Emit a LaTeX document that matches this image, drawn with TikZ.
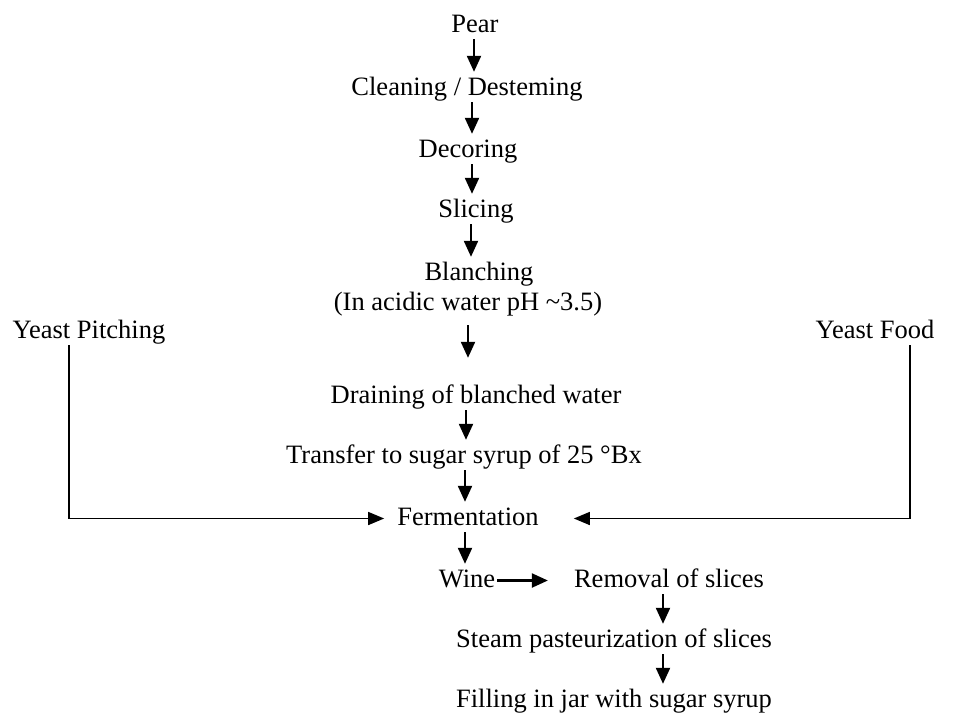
\documentclass[tikz,border=0pt]{standalone}
\usepackage{fontspec}
\setmainfont{Liberation Serif}
\usetikzlibrary{arrows.meta}
\begin{document}
\begin{tikzpicture}[x=1pt,y=-1pt,
  lbl/.style={anchor=base, inner xsep=2pt, inner ysep=2pt, text height=18pt, text depth=5pt, font=\fontsize{26.5}{30}\selectfont},
  arr/.style={line width=2.2pt, -{Triangle[length=16pt,width=14pt]}, shorten >=3pt},
  feed/.style={line width=1.6pt, -{Triangle[length=16pt,width=13pt]}}]
\useasboundingbox (0,0) rectangle (954,713);
\node[lbl] (pear) at (475,32) {Pear};
\node[lbl] (clean) at (467,95) {Cleaning / Desteming};
\node[lbl] (decor) at (468,157) {Decoring};
\node[lbl] (slice) at (476,217) {Slicing};
\node[lbl] (blanch) at (479,280) {Blanching};
\node[lbl] (acid) at (468,310) {(In acidic water pH \textasciitilde3.5)};
\node[lbl] (drain) at (476,403) {Draining of blanched water};
\node[lbl] (transfer) at (464,463) {Transfer to sugar syrup of 25 °Bx};
\node[lbl] (ferm) at (468,525) {Fermentation};
\node[lbl] (wine) at (467,587) {Wine};
\node[lbl] (removal) at (669,587) {Removal of slices};
\node[lbl] (steam) at (614,647) {Steam pasteurization of slices};
\node[lbl] (fill) at (614,707) {Filling in jar with sugar syrup};
\node[lbl] (pitch) at (89,338) {Yeast Pitching};
\node[lbl] (food) at (875,338) {Yeast Food};
\draw[arr] ([xshift=-1pt]pear.south) -- ([xshift=-1pt]pear.south |- clean.north);
\draw[arr] ([xshift=5pt]clean.south) -- ([xshift=5pt]clean.south |- decor.north);
\draw[arr] ([xshift=4pt]decor.south) -- ([xshift=4pt]decor.south |- slice.north);
\draw[arr] ([xshift=-5pt]slice.south) -- ([xshift=-5pt]slice.south |- blanch.north);
\draw[arr] ([yshift=-8pt]acid.south) -- ([yshift=22pt]acid.south |- drain.north);
\draw[arr] ([xshift=-10pt]drain.south) -- ([xshift=-10pt]drain.south |- transfer.north);
\draw[arr] ([xshift=1pt]transfer.south) -- ([xshift=1pt]transfer.south |- ferm.north);
\draw[arr] ([xshift=-3pt]ferm.south) -- ([xshift=-3pt]ferm.south |- wine.north);
\draw[arr, shorten >=24pt] (wine.east) -- (removal.west);
\draw[arr] ([xshift=-6pt]removal.south) -- ([xshift=-6pt]removal.south |- steam.north);
\draw[arr] ([xshift=49pt]steam.south) -- ([xshift=49pt]steam.south |- fill.north);
\draw[feed, shorten >=11pt] ([xshift=-20pt]pitch.south) |- (ferm.west);
\draw[feed, shorten >=33pt] ([xshift=35pt]food.south) |- (ferm.east);
\end{tikzpicture}
\end{document}
